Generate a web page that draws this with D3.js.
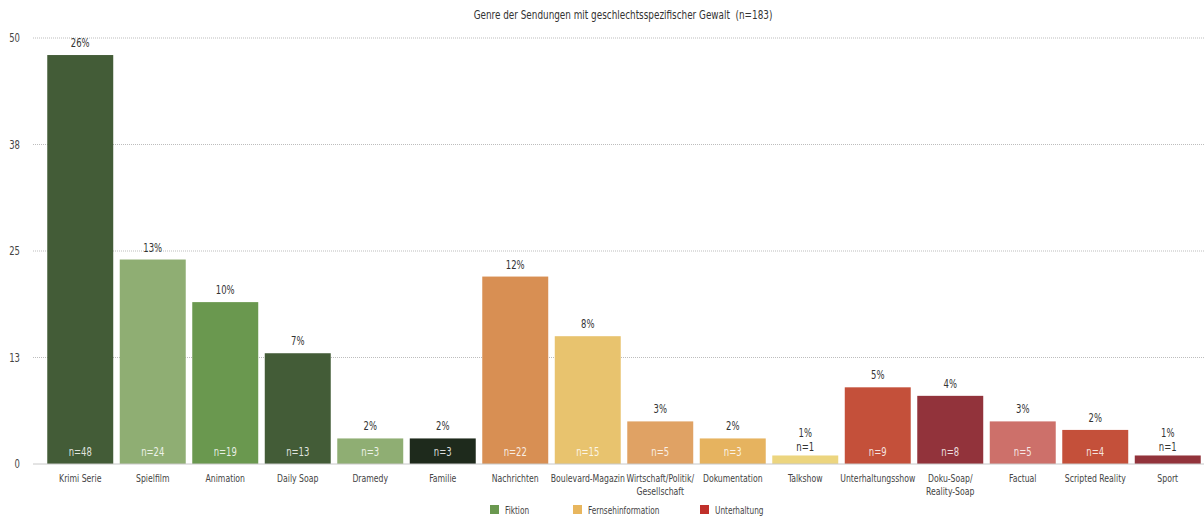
<!DOCTYPE html>
<html>
<head>
<meta charset="utf-8">
<script src="https://cdn.jsdelivr.net/npm/d3@7"></script>
<style>
  body { margin: 0; background: #fff; }
  svg { font-family: "DejaVu Sans Condensed", "DejaVu Sans", sans-serif; font-stretch: condensed; }
</style>
</head>
<body>
<div id="chart"></div>
<script>
const genres = ["Krimi Serie", "Spielfilm", "Animation", "Daily Soap", "Dramedy", "Familie",
  "Nachrichten", "Boulevard-Magazin", "Wirtschaft/Politik/|Gesellschaft", "Dokumentation", "Talkshow",
  "Unterhaltungsshow", "Doku-Soap/|Reality-Soap", "Factual", "Scripted Reality", "Sport"]
const counts = [48, 24, 19, 13, 3, 3, 22, 15, 5, 3, 1, 9, 8, 5, 4, 1]
const percents = [26, 13, 10, 7, 2, 2, 12, 8, 3, 2, 1, 5, 4, 3, 2, 1]
const barColors = ["#435c37", "#8fae73", "#6a984f", "#435c37", "#8fae73", "#1e2a1c",
  "#d88f53", "#e8c36e", "#e0a264", "#e6b35f", "#ecd57f",
  "#c4503a", "#92333b", "#cd706a", "#c4503a", "#92333b"]
const yTicks = [0, 12.5, 25, 37.5, 50]
const legendGroups = ["Fiktion", "Fernsehinformation", "Unterhaltung"]
const legendColors = ["#6a984f", "#e8b65e", "#c0302b"]

const width = 1204
const height = 519
// the original font is a narrow one, squeeze the text horizontally
const squeeze = 0.82
const place = (x, y) => `translate(${x},${y}) scale(${squeeze},1)`

const svg = d3.select("#chart").append("svg")
    .attr("width", width)
    .attr("height", height)

// title (double space kept with a no-break space)
svg.append("text")
    .attr("transform", place(623, 19))
    .attr("text-anchor", "middle")
    .style("font-size", "12px")
    .attr("fill", "#333")
    .text("Genre der Sendungen mit geschlechtsspezifischer Gewalt \u00a0(n=183)")

const xScale = d3.scaleBand()
    .domain(genres)
    .range([44, 1204])
    .paddingInner(0.09)
    .paddingOuter(0.045)

const yScale = d3.scaleLinear()
    .domain([0, 50])
    .range([464, 38])

const cx = d => xScale(d) + xScale.bandwidth() / 2

// grid
svg.append("g")
  .selectAll("line")
  .data(yTicks.slice(1))
  .join("line")
    .attr("x1", 33)
    .attr("x2", width)
    .attr("y1", d => yScale(d))
    .attr("y2", d => yScale(d))
    .attr("stroke", "#bdbdbd")
    .attr("stroke-width", 1)
    .attr("stroke-dasharray", "1,1")

svg.append("g")
  .selectAll("text")
  .data(yTicks)
  .join("text")
    .attr("transform", d => place(20, yScale(d)))
    .attr("dy", "0.35em")
    .attr("text-anchor", "end")
    .style("font-size", "11.5px")
    .attr("fill", "#444")
    .text(d => Math.round(d))

// bars
const bars = svg.append("g")
  .selectAll("g")
  .data(genres)
  .join("g")

bars.append("rect")
    .attr("x", d => xScale(d))
    .attr("y", (d, i) => yScale(counts[i]))
    .attr("width", xScale.bandwidth())
    .attr("height", (d, i) => yScale(0) - yScale(counts[i]))
    .attr("fill", (d, i) => barColors[i])

// n= labels, inside the bar unless the bar is too short
bars.append("text")
    .attr("transform", (d, i) => place(cx(d), counts[i] < 2 ? yScale(counts[i]) - 4 : yScale(0) - 8))
    .attr("text-anchor", "middle")
    .style("font-size", "11.5px")
    .attr("fill", (d, i) => counts[i] < 2 ? "#333" : "#fff")
    .attr("fill-opacity", (d, i) => counts[i] < 2 ? 1 : 0.85)
    .text((d, i) => "n=" + counts[i])

bars.append("text")
    .attr("transform", (d, i) => place(cx(d), yScale(counts[i]) - (counts[i] < 2 ? 18 : 8)))
    .attr("text-anchor", "middle")
    .style("font-size", "11.5px")
    .attr("fill", "#333")
    .text((d, i) => percents[i] + "%")

// baseline
svg.append("line")
    .attr("x1", 33)
    .attr("x2", width)
    .attr("y1", yScale(0))
    .attr("y2", yScale(0))
    .attr("stroke", "#c8c8c8")

// x labels
const xLabels = svg.append("g")
  .selectAll("text")
  .data(genres)
  .join("text")
    .attr("transform", d => place(cx(d), 481.5))
    .attr("text-anchor", "middle")
    .style("font-size", "10.5px")
    .attr("fill", "#444")

xLabels.selectAll("tspan")
  .data(d => d.split("|"))
  .join("tspan")
    .attr("x", 0)
    .attr("dy", (d, i) => i ? 14 : 0)
    .text(d => d)

// legend
const legendX = [490, 573, 700]
const legend = svg.append("g")
  .selectAll("g")
  .data(legendGroups)
  .join("g")
    .attr("transform", (d, i) => `translate(${legendX[i]}, 505)`)

legend.append("rect")
    .attr("width", 9)
    .attr("height", 9)
    .attr("fill", (d, i) => legendColors[i])

legend.append("text")
    .attr("transform", place(15, 8.5))
    .style("font-size", "10px")
    .attr("fill", "#444")
    .text(d => d)
</script>
</body>
</html>
